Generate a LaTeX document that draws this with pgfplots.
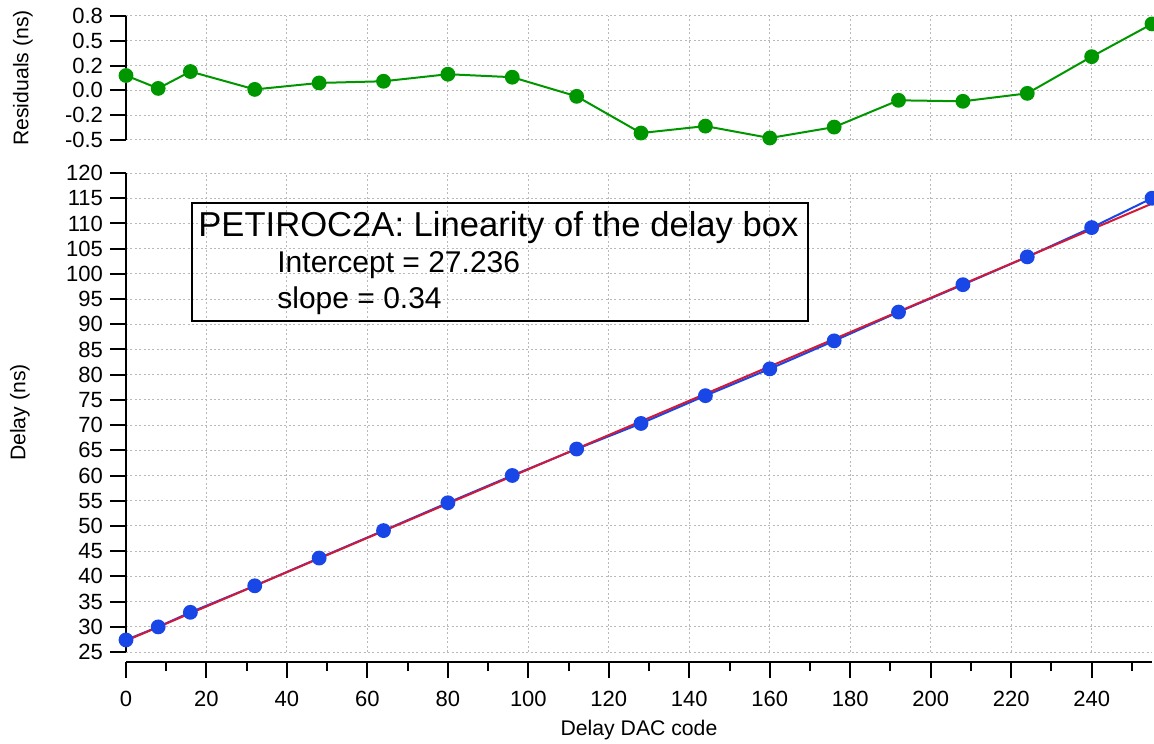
\documentclass[border=0pt]{standalone}
\usepackage{pgfplots}
\pgfplotsset{compat=1.18}
\usepackage{fontspec}
\setmainfont{Liberation Sans}

\definecolor{resgreen}{RGB}{0,150,0}
\definecolor{ptblue}{RGB}{25,70,230}
\definecolor{fitred}{RGB}{210,25,55}

% 1 px of the reference = 0.5pt; origin at lower-left corner of the delay plot
\pgfplotsset{
  every axis/.append style={
    scale only axis, width=513pt,
    xmin=0, xmax=255,
    label style={font=\fontsize{10.6}{12}\selectfont},
    tick label style={font=\fontsize{11}{13}\selectfont},
    /pgf/number format/assume math mode=true,
    axis line style={line width=1pt, black},
    tick style={line width=1pt, black},
    tick align=outside,
    major tick length=8pt,
    grid style={gray!55, line width=0.5pt, dash pattern=on 1pt off 1.2pt},
  },
}

\begin{document}
\begin{tikzpicture}

% residuals
\begin{axis}[
  at={(0,256pt)}, anchor=south west,
  height=62pt,
  ymin=-0.5, ymax=0.75,
  axis lines*=left,
  x axis line style={draw=none},
  xtick={0,20,...,240}, xticklabels={},
  xtick style={draw=none},
  ytick={-0.5,-0.25,0,0.25,0.5,0.75},
  yticklabels={-0.5,-0.2,0.0,0.2,0.5,0.8},
  grid=major,
  ylabel={Residuals (ns)},
  ylabel style={at={(axis description cs:-0.1004,0.5)}, anchor=center},
]
\addplot[resgreen, line width=1pt, mark=*, mark size=3.2pt] coordinates {
(0,0.15) (8,0.02) (16,0.19) (32,0.01) (48,0.075) (64,0.092) (80,0.163)
(96,0.133) (112,-0.06) (128,-0.43) (144,-0.36) (160,-0.48) (176,-0.37)
(192,-0.10) (208,-0.11) (224,-0.03) (240,0.34) (255,0.67)
};
\end{axis}

% delay vs DAC code
\begin{axis}[
  at={(0,0)}, anchor=south west,
  height=239.5pt,
  ymin=25, ymax=120,
  axis lines*=left,
  x axis line style={draw=none},
  xtick={0,20,...,240}, xticklabels={},
  xtick style={draw=none},
  ytick={25,30,...,120},
  grid=major,
  ylabel={Delay (ns)},
  ylabel style={at={(axis description cs:-0.1033,0.5)}, anchor=center},
]
\addplot[ptblue, line width=1pt, mark=*, mark size=3.2pt] coordinates {
(0,27.39) (8,29.98) (16,32.87) (32,38.13) (48,43.63) (64,49.08) (80,54.60)
(96,60.01) (112,65.26) (128,70.33) (144,75.84) (160,81.16) (176,86.71)
(192,92.42) (208,97.85) (224,103.37) (240,109.18) (255,115.0)
};
\addplot[fitred, line width=1pt] coordinates {(0,27.236) (255,113.936)};
\end{axis}

% detached x axis
\begin{axis}[
  at={(0,-5pt)}, anchor=south west,
  height=10pt,
  ymin=0, ymax=1,
  axis x line*=bottom, axis y line=none,
  xtick={0,20,...,240},
  minor xtick={10,30,...,250},
  minor tick length=4.5pt,
  xticklabel style={yshift=-3pt},
  xlabel={Delay DAC code},
  xlabel style={at={(axis description cs:0.5,0)}, anchor=center, yshift=-34pt},
]
\end{axis}

% annotation box
\draw[line width=1pt] (33pt,165.5pt) rectangle (341pt,224.5pt);
\node[anchor=base west, inner sep=0pt, font=\fontsize{17.3}{20}\selectfont]
  at (36pt,207.5pt) {PETIROC2A: Linearity of the delay box};
\node[anchor=base west, inner sep=0pt, font=\fontsize{15}{18}\selectfont]
  at (75.5pt,189.5pt) {Intercept = 27.236};
\node[anchor=base west, inner sep=0pt, font=\fontsize{15}{18}\selectfont]
  at (75.5pt,171.5pt) {slope = 0.34};

\pgfresetboundingbox
\useasboundingbox (-63pt,-45.5pt) rectangle (514pt,326pt);
\end{tikzpicture}
\end{document}
